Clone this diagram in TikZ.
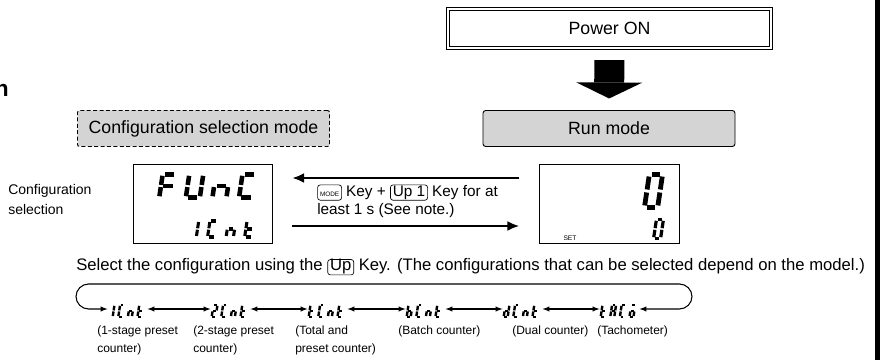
\documentclass[tikz,border=0pt]{standalone}
\usepackage{fontspec}
\setmainfont{Liberation Sans}
\usetikzlibrary{arrows,arrows.meta}

% segments of one lcd cell, 1 wide and 2 high
\newcommand{\segA}{\draw (0.17,2) -- (0.83,2);}
\newcommand{\segB}{\draw (1,1.09) -- (1,1.87);}
\newcommand{\segC}{\draw (1,0.13) -- (1,0.91);}
\newcommand{\segD}{\draw (0.17,0) -- (0.83,0);}
\newcommand{\segE}{\draw (0,0.13) -- (0,0.91);}
\newcommand{\segF}{\draw (0,1.09) -- (0,1.87);}
\newcommand{\segG}{\draw (0.17,1) -- (0.83,1);}
% glyphs
\newcommand{\lcdF}{\segA\segE\segF\segG}
\newcommand{\lcdU}{\segB\segC\segD\segE\segF}
\newcommand{\lcdn}{\segC\segE\segG}
\newcommand{\lcdC}{\segA\segD\segE\segF}
\newcommand{\lcdt}{\segD\segE\segF\segG}
\newcommand{\lcdb}{\segC\segD\segE\segF\segG}
\newcommand{\lcdd}{\segB\segC\segD\segE\segG}
\newcommand{\lcdA}{\segA\segB\segC\segE\segF\segG}
\newcommand{\lcdobar}{\segA\segC\segD\segE\segG}
\expandafter\def\csname lcd0\endcsname{\segA\segB\segC\segD\segE\segF}
\expandafter\def\csname lcd1\endcsname{\segB\segC}
\expandafter\def\csname lcd2\endcsname{\segA\segB\segG\segE\segD}
% #1 origin, #2 x unit, #3 y unit, #4 pitch, #5 line width, #6 glyphs
\newcommand{\lcdword}[6]{%
  \begin{scope}[shift={#1},x=#2,y=#3,xslant=0.15,line width=#5]
    \foreach \g [count=\i from 0] in {#6}
      {\begin{scope}[shift={(\i*#4,0)}]\csname lcd\g\endcsname\end{scope}}
  \end{scope}}
% key symbol in the text
\newcommand{\keycap}[1]{\tikz[baseline=(key.base)]\node[draw,line width=0.5pt,rounded corners=2pt,
  inner xsep=1.8pt,inner ysep=1pt,text height=7.5pt,text depth=2pt](key){#1};}

\begin{document}
\begin{tikzpicture}[x=0.75pt,y=-0.75pt,
  font=\fontsize{11.5}{13.5}\selectfont,
  modebox/.style={draw,line width=0.7pt,rounded corners=2pt,fill=black!17,
    minimum width=189pt,minimum height=27pt,inner sep=0pt,outer sep=0pt,
    font=\fontsize{13.3}{15}\selectfont},
  display/.style={draw,line width=0.6pt,minimum width=104.5pt,minimum height=59.5pt,inner sep=0pt},
  slot/.style={minimum width=27pt,minimum height=10.5pt,inner sep=0pt,outer sep=1.5pt,anchor=south west},
  lbl/.style={anchor=north west,align=left,inner sep=0pt,font=\fontsize{9}{13}\selectfont},
  modearrow/.style={line width=2pt,-{Latex[length=9pt,width=7.5pt]}},
  swaparrow/.style={line width=0.8pt,latex-latex}]
  \useasboundingbox (0,0) rectangle (883,360);

  % cut heading and page edge
  \node[anchor=base east,inner sep=0pt,font=\fontsize{17}{20}\selectfont\bfseries] (head) at (9,97) {n};
  \fill (875,0) rectangle (880,360);

  \node[draw,double,double distance=1.6pt,line width=0.6pt,minimum width=242pt,minimum height=29.5pt,
    inner sep=0pt,outer sep=0pt,font=\fontsize{13.3}{15}\selectfont] (power) at (609.5,28.5) {Power ON};
  \node[modebox] (run) at (609,128.5) {Run mode};
  \node[modebox,dash pattern=on 3pt off 1.8pt,rounded corners=1.5pt] (cfgmode) at (203.5,128.5) {Configuration selection mode};
  \draw[line width=22.5pt,-{Triangle[width=49.5pt,length=12pt,line width=0pt]},shorten <=9pt,shorten >=9pt] (power) -- (run);

  % the two displays
  \node[display] (disp1) at (203,204) {};
  \node[display] (disp2) at (609.5,204) {};
  \node[align=left,anchor=west,inner sep=0pt,font=\fontsize{10.5}{15}\selectfont] (cfgtxt) at (8,199.5) {Configuration\\selection};
  \lcdword{(159.2,197.75)}{10.5pt}{8.8pt}{1.9}{3.4pt}{F,U,n,C}
  \lcdword{(189,237)}{5.5pt}{6pt}{2.53}{2.3pt}{1,C,n,t}
  \lcdword{(644.4,207.6)}{9.9pt}{12.45pt}{1}{3.6pt}{0}
  \lcdword{(653.6,238.4)}{5.25pt}{7.05pt}{1}{2.4pt}{0}
  \node[font=\fontsize{5}{6}\selectfont,inner sep=0pt] (set) at (570,238) {SET};

  \draw[modearrow] ([xshift=-15pt,yshift=19.5pt]disp2.west) -- ([xshift=14.25pt,yshift=19.5pt]disp1.east);
  \draw[modearrow] ([xshift=14.25pt,yshift=-16.5pt]disp1.east) -- ([xshift=-15pt,yshift=-16.5pt]disp2.west);
  \node[anchor=west,align=left,inner sep=0pt] (keytxt) at (317,201)
    {\keycap{\fontsize{4.8}{5}\selectfont MODE} Key + \keycap{Up 1} Key for at\\least 1 s (See note.)};

  % configurations
  \node[anchor=west,inner sep=0pt,font=\fontsize{12.5}{14}\selectfont] (selecttxt) at (76,267)
    {Select the configuration using the \keycap{Up} Key. (The configurations that can be selected depend on the model.)};
  \node[slot] (g1) at (107.5,318) {};
  \node[slot] (g2) at (210.5,318) {};
  \node[slot] (g3) at (307.5,318) {};
  \node[slot] (g4) at (405.5,318) {};
  \node[slot] (g5) at (502.5,318) {};
  \node[slot] (g6) at (599.5,318) {};
  \lcdword{([shift={(1.2,-1.2)}]g1.south west)}{3pt}{4.4pt}{2.4}{1.8pt}{1,C,n,t}
  \lcdword{([shift={(1.2,-1.2)}]g2.south west)}{3pt}{4.4pt}{2.4}{1.8pt}{2,C,n,t}
  \lcdword{([shift={(1.2,-1.2)}]g3.south west)}{3pt}{4.4pt}{2.4}{1.8pt}{t,C,n,t}
  \lcdword{([shift={(1.2,-1.2)}]g4.south west)}{3pt}{4.4pt}{2.4}{1.8pt}{b,C,n,t}
  \lcdword{([shift={(1.2,-1.2)}]g5.south west)}{3pt}{4.4pt}{2.4}{1.8pt}{d,C,n,t}
  \lcdword{([shift={(1.2,-1.2)}]g6.south west)}{3pt}{4.4pt}{2.4}{1.8pt}{t,A,C,obar}
  \draw[swaparrow] (g1) -- (g2);
  \draw[swaparrow] (g2) -- (g3);
  \draw[swaparrow] (g3) -- (g4);
  \draw[swaparrow] (g4) -- (g5);
  \draw[swaparrow] (g5) -- (g6);
  \coordinate (cyr) at (692,284);
  \coordinate (cyl) at (76,284);
  \draw[swaparrow,rounded corners=9.5pt] (g6) -| (cyr) -- (cyl) |- (g1);
  \node[lbl] (l1) at (97,326) {(1-stage preset\\counter)};
  \node[lbl] (l2) at (193,326) {(2-stage preset\\counter)};
  \node[lbl] (l3) at (295,326) {(Total and\\preset counter)};
  \node[lbl] (l4) at (398,326) {(Batch counter)};
  \node[lbl] (l5) at (512,326) {(Dual counter)};
  \node[lbl] (l6) at (597,326) {(Tachometer)};
\end{tikzpicture}
\end{document}
